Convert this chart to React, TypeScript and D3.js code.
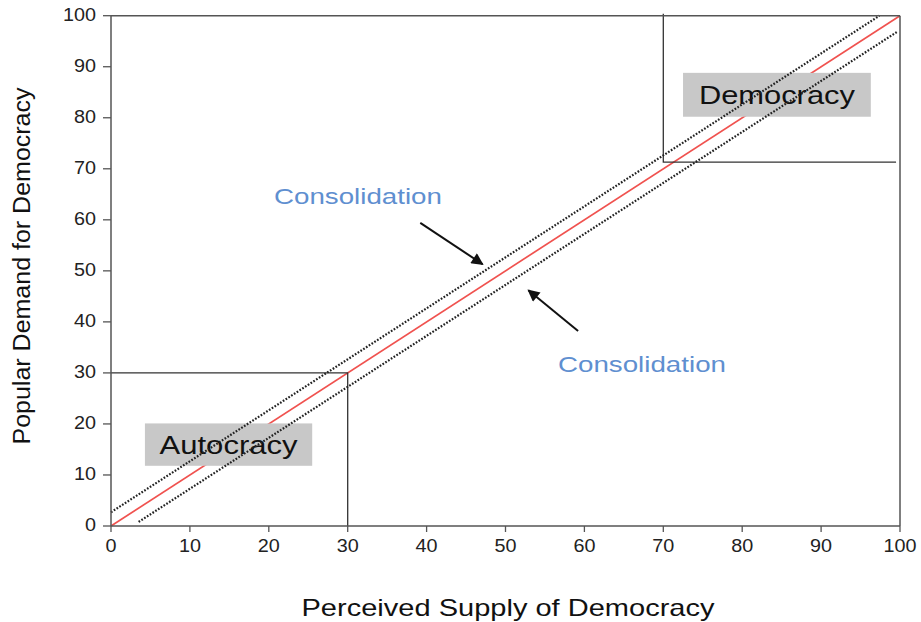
import React from "react";
import * as d3 from "d3";

const xTicks = [0, 10, 20, 30, 40, 50, 60, 70, 80, 90, 100];
const yTicks = [0, 10, 20, 30, 40, 50, 60, 70, 80, 90, 100];
const diagonal: [number, number][] = [[0, 0], [100, 100]];
const upperBand: [number, number][] = [[0, 2.7], [97.4, 100]];
const lowerBand: [number, number][] = [[3.5, 0.8], [99.6, 96.8]];
const autocracyFrame: [number, number][] = [[0, 30], [30, 30], [30, 0]];
const democracyFrame: [number, number][] = [[70, 100.4], [70, 71.3], [99.5, 71.3]];
const regionNames = ["Autocracy", "Democracy"];
const regionBoxes = [
  { x0: 4.3, x1: 25.5, y0: 11.8, y1: 20.1 },
  { x0: 72.5, x1: 96.3, y0: 80.2, y1: 88.8 },
];
const consolidationLabels = [
  { text: "Consolidation", x: 31.3, y: 64.6 },
  { text: "Consolidation", x: 67.3, y: 31.7 },
];
const arrows: { from: [number, number]; to: [number, number] }[] = [
  { from: [39.2, 59.4], to: [47.1, 51.3] },
  { from: [59.2, 38.2], to: [52.9, 46.2] },
];

const W = 921;
const H = 622;
const FONT = "'Liberation Sans', Arial, sans-serif";

export default function App() {
  const x = d3.scaleLinear().domain([0, 100]).range([111, 900]);
  const y = d3.scaleLinear().domain([0, 100]).range([526, 15.7]);
  const line = d3
    .line<[number, number]>()
    .x((d) => x(d[0]))
    .y((d) => y(d[1]));

  const axisColor = "#555";

  return (
    <svg
      width={W}
      height={H}
      style={{ position: "absolute", left: 0, top: 0, background: "#fff" }}
      fontFamily={FONT}
    >
      <defs>
        <marker
          id="arrowhead"
          viewBox="0 0 10 10"
          refX="9"
          refY="5"
          markerWidth="6.5"
          markerHeight="6"
          orient="auto"
        >
          <path d="M0,0 L10,5 L0,10 z" fill="#111" />
        </marker>
      </defs>

      {/* red 45 degree line */}
      <path d={line(diagonal) || ""} stroke="#f0524f" strokeWidth={1.7} fill="none" />

      {/* region frames */}
      <path d={line(autocracyFrame) || ""} stroke="#333" strokeWidth={1.3} fill="none" />
      <path d={line(democracyFrame) || ""} stroke="#333" strokeWidth={1.3} fill="none" />

      {/* region boxes */}
      {regionBoxes.map((b, i) => (
        <g key={i}>
          <rect
            x={x(b.x0)}
            y={y(b.y1)}
            width={x(b.x1) - x(b.x0)}
            height={y(b.y0) - y(b.y1)}
            fill="#c8c8c8"
          />
          <text
            x={(x(b.x0) + x(b.x1)) / 2}
            y={(y(b.y0) + y(b.y1)) / 2 + 9}
            textAnchor="middle"
            fontSize={25}
            fill="#111"
            textLength={i === 0 ? 138 : 156}
            lengthAdjust="spacingAndGlyphs"
          >
            {regionNames[i]}
          </text>
        </g>
      ))}

      {/* dotted band lines */}
      <path
        d={line(upperBand) || ""}
        stroke="#222"
        strokeWidth={2.2}
        strokeDasharray="1.7,1.6"
        fill="none"
      />
      <path
        d={line(lowerBand) || ""}
        stroke="#222"
        strokeWidth={2.2}
        strokeDasharray="1.7,1.6"
        fill="none"
      />

      {/* consolidation labels */}
      {consolidationLabels.map((l, i) => (
        <text
          key={i}
          x={x(l.x)}
          y={y(l.y) + 8}
          textAnchor="middle"
          fontSize={22}
          fill="#5f8fd0"
          textLength={168}
          lengthAdjust="spacingAndGlyphs"
        >
          {l.text}
        </text>
      ))}

      {/* arrows */}
      {arrows.map((a, i) => (
        <line
          key={i}
          x1={x(a.from[0])}
          y1={y(a.from[1])}
          x2={x(a.to[0])}
          y2={y(a.to[1])}
          stroke="#111"
          strokeWidth={2}
          markerEnd="url(#arrowhead)"
        />
      ))}

      {/* frame */}
      <line x1={x(0)} x2={x(100)} y1={y(100)} y2={y(100)} stroke={axisColor} strokeWidth={1.5} />
      <line x1={x(100)} x2={x(100)} y1={y(100)} y2={y(0)} stroke={axisColor} strokeWidth={1.5} />
      <line x1={x(0)} x2={x(100)} y1={y(0)} y2={y(0)} stroke={axisColor} strokeWidth={1.5} />
      <line x1={x(0)} x2={x(0)} y1={y(0)} y2={y(100)} stroke={axisColor} strokeWidth={1.5} />

      {/* y ticks */}
      {yTicks.map((t) => (
        <g key={"y" + t}>
          <line x1={x(0) - 8} x2={x(0)} y1={y(t)} y2={y(t)} stroke={axisColor} strokeWidth={1.3} />
          <text
            x={96}
            y={y(t) + 5}
            textAnchor="end"
            fontSize={18}
            fill="#222"
            textLength={String(t).length * 11}
            lengthAdjust="spacingAndGlyphs"
          >
            {t}
          </text>
        </g>
      ))}

      {/* x ticks */}
      {xTicks.map((t) => (
        <g key={"x" + t}>
          <line x1={x(t)} x2={x(t)} y1={y(0)} y2={y(0) + 6} stroke={axisColor} strokeWidth={1.3} />
          <text
            x={x(t)}
            y={552}
            textAnchor="middle"
            fontSize={18}
            fill="#222"
            textLength={String(t).length * 11}
            lengthAdjust="spacingAndGlyphs"
          >
            {t}
          </text>
        </g>
      ))}

      {/* axis titles */}
      <text
        x={508}
        y={616}
        textAnchor="middle"
        fontSize={24}
        fill="#111"
        textLength={413}
        lengthAdjust="spacingAndGlyphs"
      >
        Perceived Supply of Democracy
      </text>
      <text
        transform="translate(30,266) rotate(-90)"
        textAnchor="middle"
        fontSize={23}
        fill="#111"
        textLength={357}
        lengthAdjust="spacingAndGlyphs"
      >
        Popular Demand for Democracy
      </text>
    </svg>
  );
}
